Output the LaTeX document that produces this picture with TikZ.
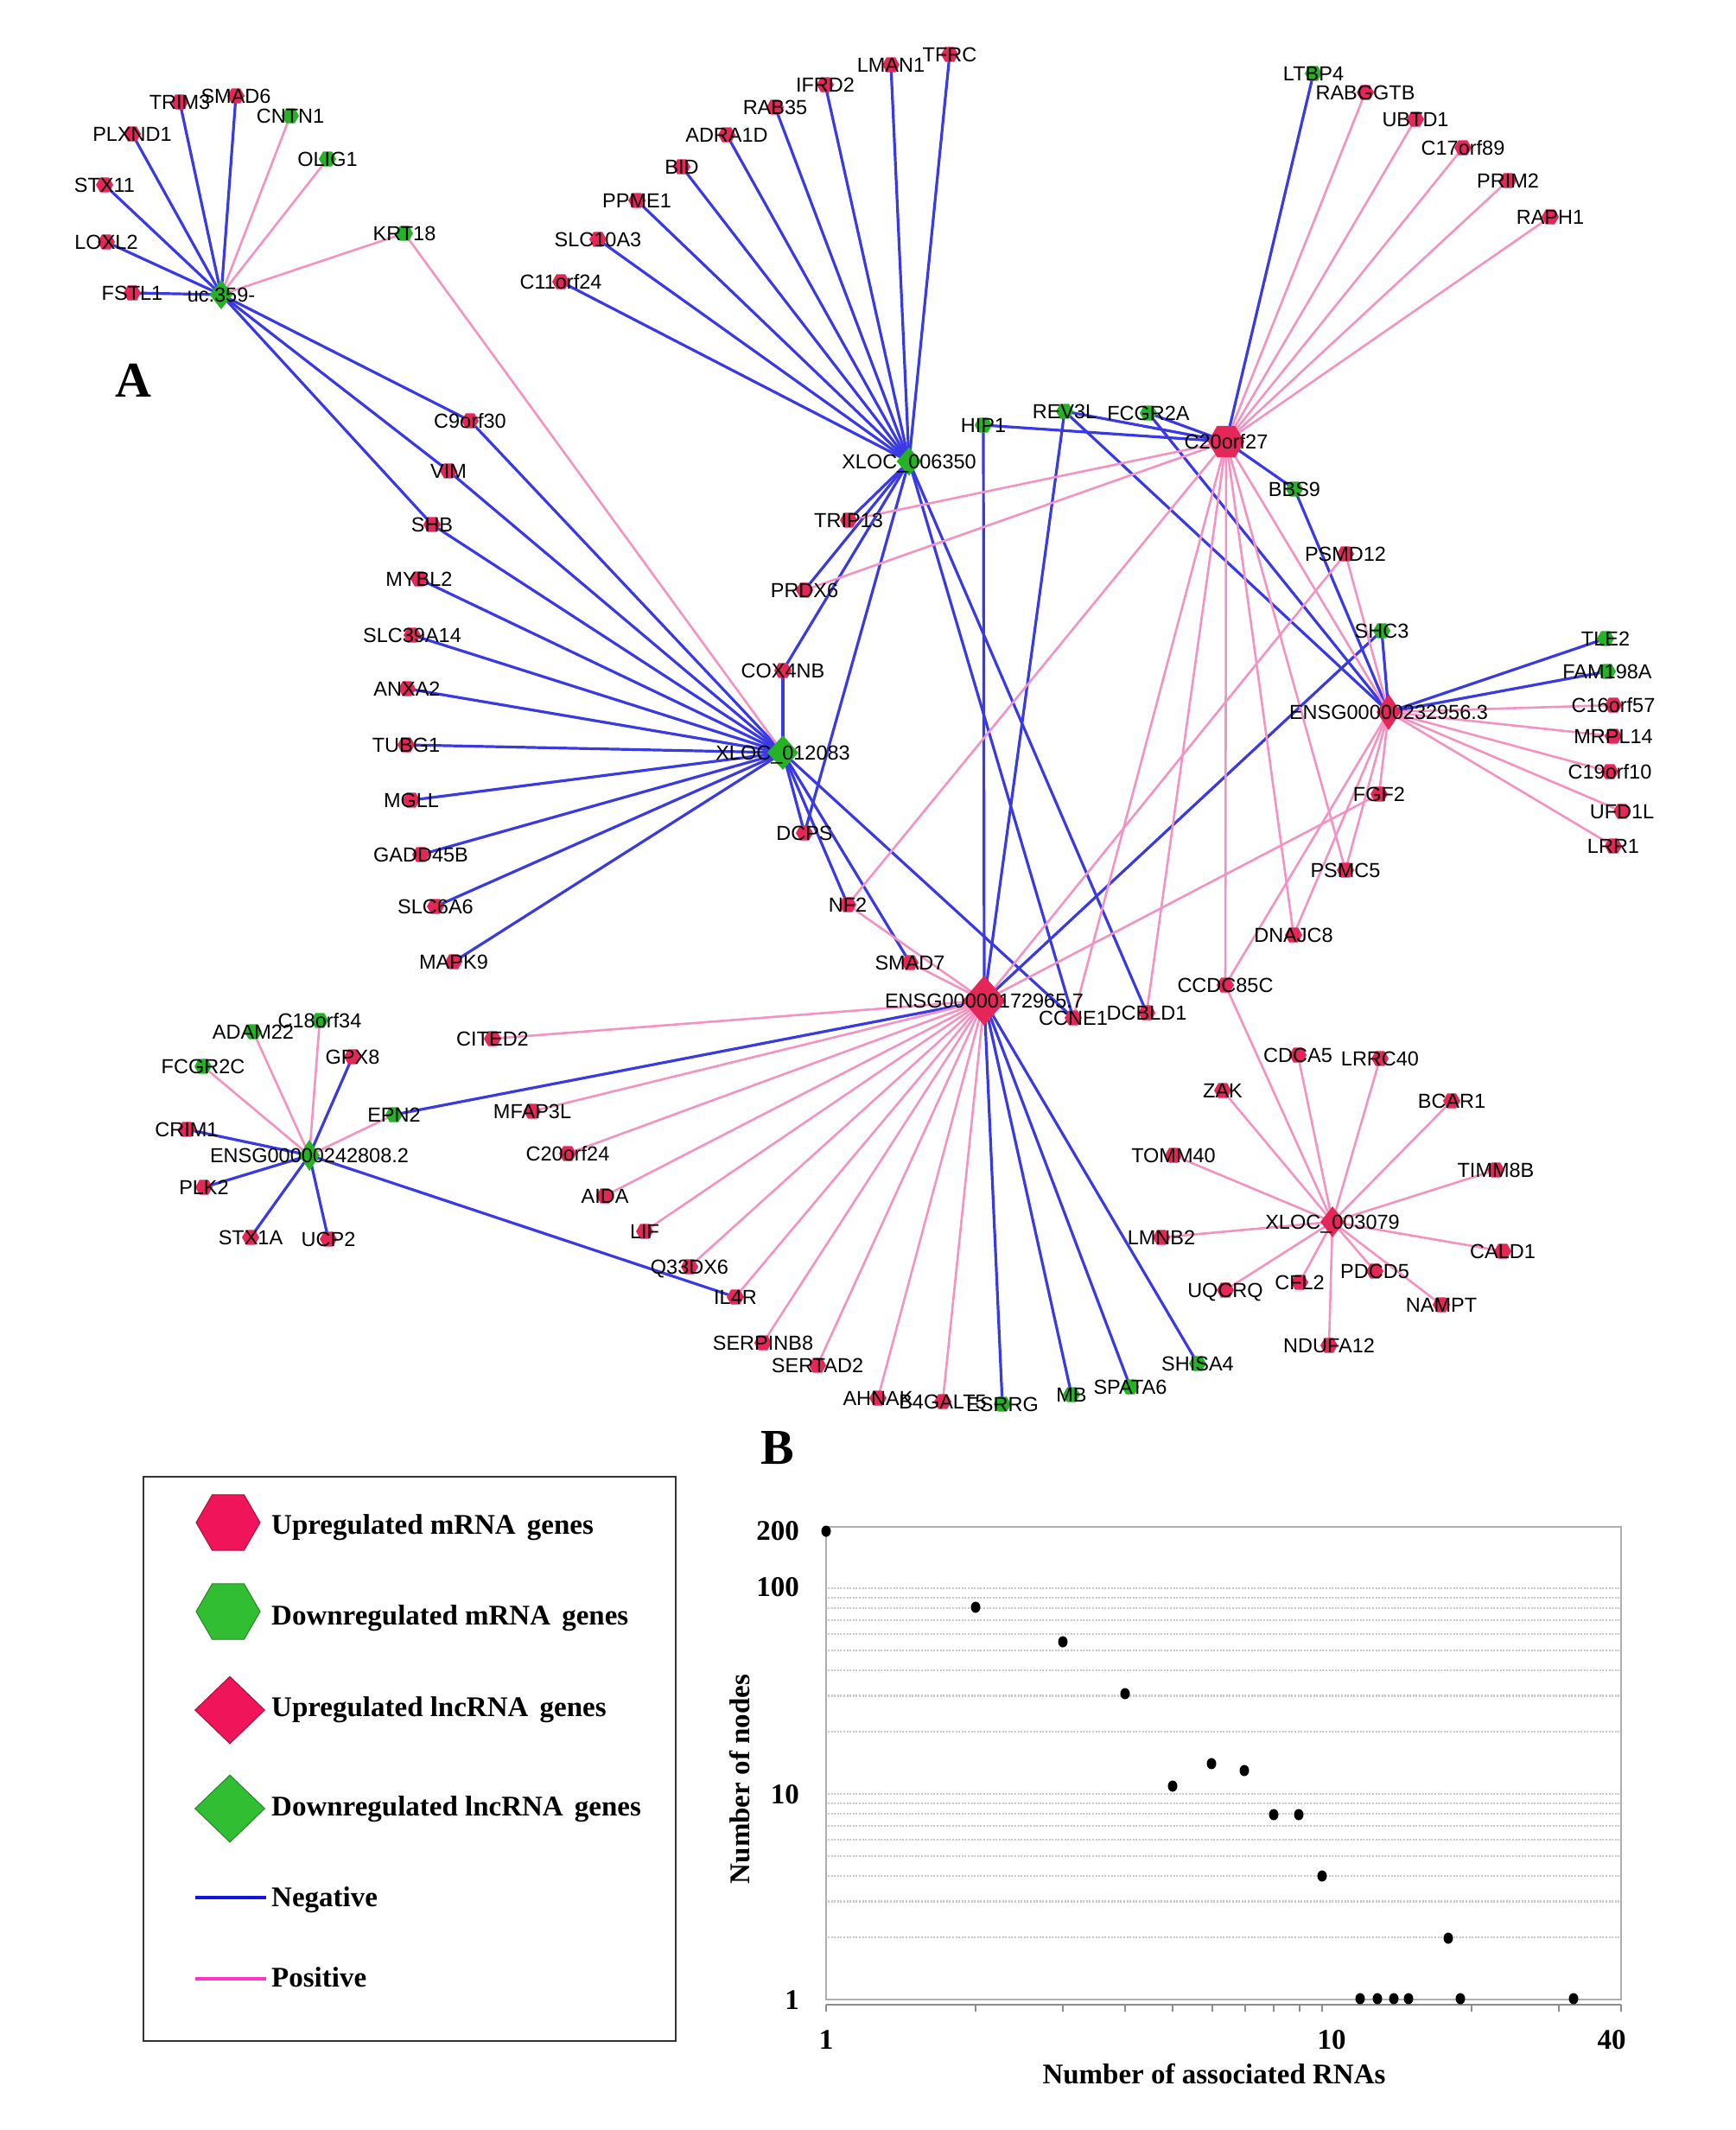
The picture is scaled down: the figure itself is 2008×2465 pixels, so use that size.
\documentclass[tikz,border=0pt]{standalone}
\usepackage{fontspec}
\setmainfont{Liberation Serif}
\newfontfamily\labfont{Liberation Sans}
\usetikzlibrary{shapes.geometric}
\definecolor{nred}{RGB}{229,38,88}
\definecolor{ngreen}{RGB}{38,178,38}
\definecolor{eblue}{RGB}{58,58,228}
\definecolor{epink}{RGB}{244,146,194}
\definecolor{lred}{RGB}{240,20,90}
\definecolor{lgreen}{RGB}{50,190,50}
\definecolor{lblue}{RGB}{20,20,225}
\definecolor{lmag}{RGB}{255,50,200}
\definecolor{gridc}{RGB}{200,200,200}
\definecolor{framec}{RGB}{175,175,175}
\pgfdeclarelayer{bgl}
\pgfdeclarelayer{edges}
\pgfsetlayers{bgl,edges,main}
\newcommand\geneR[3]{\node[hexR,label={[lab]center:#3}] (#1) at (#2) {};}
\newcommand\geneG[3]{\node[hexG,label={[lab]center:#3}] (#1) at (#2) {};}
\newcommand\lncR[5]{\node[dmR,minimum width=#4pt,minimum height=#5pt,label={[lab]center:#3}] (#1) at (#2) {};}
\newcommand\lncG[5]{\node[dmG,minimum width=#4pt,minimum height=#5pt,label={[lab]center:#3}] (#1) at (#2) {};}
\begin{document}
\begin{tikzpicture}[x=1pt,y=-1pt,
 lab/.style={font=\labfont\fontsize{23.5}{23.5}\selectfont, inner sep=0pt, text height=16.8pt, text depth=0pt},
 hexR/.style={regular polygon, regular polygon sides=6, minimum size=20pt, inner sep=0pt, fill=nred},
 hexG/.style={hexR, fill=ngreen},
 dmR/.style={diamond, inner sep=0pt, fill=nred},
 dmG/.style={diamond, inner sep=0pt, fill=ngreen},
 negedge/.style={draw=eblue, line width=3.2pt},
 posedge/.style={draw=epink, line width=2.6pt},
 legtxt/.style={font=\bfseries\fontsize{33}{33}\selectfont, inner sep=0pt, anchor=base west},
 axtxt/.style={font=\bfseries\fontsize{33}{33}\selectfont, inner sep=0pt},
 pnl/.style={font=\bfseries\fontsize{58}{58}\selectfont, inner sep=0pt, anchor=base}]
\begin{pgfonlayer}{bgl}
\fill[white] (0,0) rectangle (2008,2465);
\end{pgfonlayer}
\useasboundingbox (0,0) rectangle (2008,2465);

% ---------- cluster uc.359- ----------
\geneR{TRIM3}{208,118}{TRIM3}
\geneR{SMAD6}{273,111}{SMAD6}
\geneG{CNTN1}{336,134}{CNTN1}
\geneR{PLXND1}{153,155}{PLXND1}
\geneG{OLIG1}{379,184}{OLIG1}
\geneR{STX11}{121,214}{STX11}
\geneR{LOXL2}{123,280}{LOXL2}
\geneG{KRT18}{468,270}{KRT18}
\geneR{FSTL1}{153,339}{FSTL1}
\lncG{uc359}{256,341}{uc.359-}{27}{34}

% ---------- cluster XLOC_012083 ----------
\geneR{C9orf30}{544,487}{C9orf30}
\geneR{VIM}{519,545}{VIM}
\geneR{SHB}{500,607}{SHB}
\geneR{MYBL2}{485,670}{MYBL2}
\geneR{SLC39A14}{477,735}{SLC39A14}
\geneR{ANXA2}{471,797}{ANXA2}
\geneR{TUBG1}{470,862}{TUBG1}
\geneR{MGLL}{476,926}{MGLL}
\geneR{GADD45B}{487,989}{GADD45B}
\geneR{SLC6A6}{504,1049}{SLC6A6}
\geneR{MAPK9}{525,1113}{MAPK9}
\lncG{X012083}{906,871}{XLOC\_012083}{36}{40}
\geneR{COX4NB}{906,776}{COX4NB}
\geneR{PRDX6}{931,683}{PRDX6}
\geneR{TRIP13}{982,602}{TRIP13}
\geneR{DCPS}{931,964}{DCPS}
\geneR{NF2}{981,1047}{NF2}
\geneR{SMAD7}{1053,1114}{SMAD7}

% ---------- cluster XLOC_006350 ----------
\geneR{TFRC}{1099,63}{TFRC}
\geneR{LMAN1}{1031,75}{LMAN1}
\geneR{IFRD2}{955,98}{IFRD2}
\geneR{RAB35}{897,124}{RAB35}
\geneR{ADRA1D}{841,156}{ADRA1D}
\geneR{BID}{789,193}{BID}
\geneR{PPME1}{737,232}{PPME1}
\geneR{SLC10A3}{692,277}{SLC10A3}
\geneR{C11orf24}{649,326}{C11orf24}
\lncG{X006350}{1052,534}{XLOC\_006350}{29}{33}
\geneG{HIP1}{1138,492}{HIP1}
\geneG{REV3L}{1232,476}{REV3L}
\geneG{FCGR2A}{1329,478}{FCGR2A}

% ---------- cluster C20orf27 ----------
\node[hexR,minimum size=42pt,label={[lab]center:C20orf27}] (C20orf27) at (1419,511) {};
\geneG{BBS9}{1498,566}{BBS9}
\geneG{LTBP4}{1520,85}{LTBP4}
\geneR{RABGGTB}{1580,107}{RABGGTB}
\geneR{UBTD1}{1638,138}{UBTD1}
\geneR{C17orf89}{1693,171}{C17orf89}
\geneR{PRIM2}{1745,209}{PRIM2}
\geneR{RAPH1}{1794,251}{RAPH1}

% ---------- cluster ENSG00000232956.3 ----------
\geneR{PSMD12}{1557,641}{PSMD12}
\geneG{SHC3}{1599,730}{SHC3}
\lncR{E2}{1607,824}{ENSG00000232956.3}{28}{42}
\geneG{TLE2}{1858,739}{TLE2}
\geneG{FAM198A}{1860,777}{FAM198A}
\geneR{C16orf57}{1867,816}{C16orf57}
\geneR{MRPL14}{1867,852}{MRPL14}
\geneR{C19orf10}{1863,893}{C19orf10}
\geneR{UFD1L}{1877,939}{UFD1L}
\geneR{LRR1}{1867,979}{LRR1}
\geneR{FGF2}{1596,919}{FGF2}
\geneR{PSMC5}{1557,1007}{PSMC5}
\geneR{DNAJC8}{1497,1082}{DNAJC8}
\geneR{CCDC85C}{1418,1140}{CCDC85C}
\geneR{DCBLD1}{1327,1172}{DCBLD1}
\geneR{CCNE1}{1242,1178}{CCNE1}

% ---------- cluster ENSG00000172965.7 ----------
\lncR{E1}{1139,1158}{ENSG00000172965.7}{50}{58}
\geneR{CITED2}{570,1202}{CITED2}
\geneR{MFAP3L}{616,1286}{MFAP3L}
\geneR{C20orf24}{657,1335}{C20orf24}
\geneR{AIDA}{700,1384}{AIDA}
\geneR{LIF}{746,1425}{LIF}
\geneR{Q33DX6}{798,1466}{Q33DX6}
\geneR{IL4R}{851,1501}{IL4R}
\geneR{SERPINB8}{883,1554}{SERPINB8}
\geneR{SERTAD2}{946,1580}{SERTAD2}
\geneR{AHNAK}{1016,1618}{AHNAK}
\geneR{B4GALT5}{1091,1622}{B4GALT5}
\geneG{ESRRG}{1160,1625}{ESRRG}
\geneG{MB}{1240,1614}{MB}
\geneG{SPATA6}{1308,1605}{SPATA6}
\geneG{SHISA4}{1386,1578}{SHISA4}

% ---------- cluster XLOC_003079 ----------
\geneR{CDCA5}{1502,1221}{CDCA5}
\geneR{LRRC40}{1597,1225}{LRRC40}
\geneR{ZAK}{1415,1262}{ZAK}
\geneR{BCAR1}{1680,1274}{BCAR1}
\geneR{TOMM40}{1358,1337}{TOMM40}
\geneR{TIMM8B}{1731,1354}{TIMM8B}
\lncR{X3}{1542,1414}{XLOC\_003079}{28}{36}
\geneR{LMNB2}{1344,1432}{LMNB2}
\geneR{CALD1}{1739,1448}{CALD1}
\geneR{PDCD5}{1591,1471}{PDCD5}
\geneR{CFL2}{1504,1484}{CFL2}
\geneR{UQCRQ}{1418,1493}{UQCRQ}
\geneR{NAMPT}{1668,1510}{NAMPT}
\geneR{NDUFA12}{1538,1557}{NDUFA12}

% ---------- cluster ENSG00000242808.2 ----------
\lncG{E3}{358,1337}{ENSG00000242808.2}{24}{36}
\geneG{C18orf34}{370,1181}{C18orf34}
\geneG{ADAM22}{293,1194}{ADAM22}
\geneR{GPX8}{408,1223}{GPX8}
\geneG{FCGR2C}{235,1234}{FCGR2C}
\geneG{EPN2}{456,1290}{EPN2}
\geneR{CRIM1}{216,1307}{CRIM1}
\geneR{PLK2}{236,1374}{PLK2}
\geneR{STX1A}{290,1432}{STX1A}
\geneR{UCP2}{380,1434}{UCP2}

% ---------- edges ----------
\begin{pgfonlayer}{edges}
\foreach \a/\b in {uc359/TRIM3,uc359/SMAD6,uc359/PLXND1,uc359/STX11,uc359/LOXL2,uc359/FSTL1,uc359/C9orf30,uc359/VIM,uc359/SHB,
 X012083/C9orf30,X012083/VIM,X012083/SHB,X012083/MYBL2,X012083/SLC39A14,X012083/ANXA2,X012083/TUBG1,X012083/MGLL,X012083/GADD45B,X012083/SLC6A6,X012083/MAPK9,X012083/COX4NB,X012083/DCPS,X012083/NF2,X012083/SMAD7,X012083/CCNE1,
 X006350/TFRC,X006350/LMAN1,X006350/IFRD2,X006350/RAB35,X006350/ADRA1D,X006350/BID,X006350/PPME1,X006350/SLC10A3,X006350/C11orf24,X006350/TRIP13,X006350/PRDX6,X006350/COX4NB,X006350/DCPS,X006350/CCNE1,X006350/DCBLD1,
 C20orf27/LTBP4,C20orf27/HIP1,C20orf27/REV3L,C20orf27/FCGR2A,C20orf27/BBS9,
 E1/HIP1,E1/REV3L,E1/SHC3,E1/EPN2,E1/ESRRG,E1/MB,E1/SPATA6,E1/SHISA4,
 E2/REV3L,E2/FCGR2A,E2/BBS9,E2/SHC3,E2/TLE2,E2/FAM198A,
 E3/GPX8,E3/CRIM1,E3/PLK2,E3/STX1A,E3/UCP2,E3/IL4R}
 \draw[negedge] (\a.center) -- (\b.center);
\foreach \a/\b in {uc359/CNTN1,uc359/OLIG1,uc359/KRT18,X012083/KRT18,
 C20orf27/RABGGTB,C20orf27/UBTD1,C20orf27/C17orf89,C20orf27/PRIM2,C20orf27/RAPH1,C20orf27/TRIP13,C20orf27/PRDX6,C20orf27/NF2,C20orf27/CCNE1,C20orf27/DCBLD1,C20orf27/CCDC85C,C20orf27/DNAJC8,C20orf27/PSMC5,C20orf27/E2,
 E1/SMAD7,E1/NF2,E1/FGF2,E1/PSMD12,E1/CITED2,E1/MFAP3L,E1/C20orf24,E1/AIDA,E1/LIF,E1/Q33DX6,E1/IL4R,E1/SERPINB8,E1/SERTAD2,E1/AHNAK,E1/B4GALT5,
 E2/PSMD12,E2/FGF2,E2/PSMC5,E2/DNAJC8,E2/CCDC85C,E2/C16orf57,E2/MRPL14,E2/C19orf10,E2/UFD1L,E2/LRR1,
 E3/FCGR2C,E3/ADAM22,E3/C18orf34,E3/EPN2,
 X3/CCDC85C,X3/CDCA5,X3/LRRC40,X3/ZAK,X3/BCAR1,X3/TOMM40,X3/TIMM8B,X3/LMNB2,X3/CALD1,X3/PDCD5,X3/CFL2,X3/UQCRQ,X3/NAMPT,X3/NDUFA12}
 \draw[posedge] (\a.center) -- (\b.center);
\end{pgfonlayer}

% ---------- panel letters ----------
\node[pnl] (pA) at (154,459) {A};
\node[pnl] (pB) at (900,1694) {B};

% ---------- legend ----------
\draw[line width=2.5pt, draw=black!80] (166,1709) rectangle (782,2362);
\node[regular polygon, regular polygon sides=6, minimum size=74pt, inner sep=0pt, fill=lred, draw=lred!70!black, line width=1pt] (lg1) at (264,1762) {};
\node[regular polygon, regular polygon sides=6, minimum size=74pt, inner sep=0pt, fill=lgreen, draw=lgreen!70!black, line width=1pt] (lg2) at (264,1865) {};
\node[diamond, minimum width=81pt, minimum height=78pt, inner sep=0pt, fill=lred, draw=lred!70!black, line width=1pt] (lg3) at (266,1979) {};
\node[diamond, minimum width=81pt, minimum height=78pt, inner sep=0pt, fill=lgreen, draw=lgreen!70!black, line width=1pt] (lg4) at (266,2093) {};
\coordinate (n1) at (226,2196); \coordinate (n2) at (308,2196);
\coordinate (p1) at (226,2290); \coordinate (p2) at (308,2290);
\draw[lblue, line width=4pt] (n1) -- (n2);
\draw[lmag, line width=4pt] (p1) -- (p2);
\node[legtxt] (t1) at (314,1775) {Upregulated mRNA\hspace{0.15em} genes};
\node[legtxt] (t2) at (314,1880) {Downregulated mRNA\hspace{0.15em} genes};
\node[legtxt] (t3) at (314,1986) {Upregulated lncRNA\hspace{0.15em} genes};
\node[legtxt] (t4) at (314,2101) {Downregulated lncRNA\hspace{0.15em} genes};
\node[legtxt] (t5) at (314,2206) {Negative};
\node[legtxt] (t6) at (314,2299) {Positive};

% ---------- plot B ----------
\foreach \v in {2,3,4,5,6,7,8,9,10,20,30,40,50,60,70,80,90,100}
 \draw[gridc, line width=2.2pt, dash pattern=on 2pt off 1.6pt] (958,{2314-238*log10(\v)}) -- (1874,{2314-238*log10(\v)});
\draw[framec, line width=2.2pt] (956,1767) rectangle (1876,2314);
\draw[framec!80!black, line width=2pt] (956,2320) -- (1876,2320);
\foreach \v in {1,2,3,4,5,6,7,8,9,10,20,30,40}
 \draw[framec!80!black, line width=2pt] ({956+574*log10(\v)},2320) -- ({956+574*log10(\v)},2328);
\foreach \px/\py in {956/1772,1129/1860,1230/1900,1302/1960,1357/2067,1402/2041,1440/2049,1474/2100,1503/2100,1530/2171,1574/2313,1594/2313,1613/2313,1630/2313,1676/2243,1690/2313,1821/2313}
 \fill[black] (\px,\py) ellipse [x radius=5.5pt, y radius=6.5pt];
\node[axtxt, anchor=base east] (y200) at (925,1782) {200};
\node[axtxt, anchor=base east] (y100) at (925,1847) {100};
\node[axtxt, anchor=base east] (y10) at (925,2087) {10};
\node[axtxt, anchor=base east] (y1) at (925,2325) {1};
\node[axtxt, anchor=base] (x1) at (956,2371) {1};
\node[axtxt, anchor=base] (x10) at (1541,2371) {10};
\node[axtxt, anchor=base] (x40) at (1865,2371) {40};
\node[axtxt, anchor=base] (xt) at (1405,2411) {Number of associated RNAs};
\node[axtxt, rotate=90] (yt) at (856,2059) {Number of nodes};
\end{tikzpicture}
\end{document}
